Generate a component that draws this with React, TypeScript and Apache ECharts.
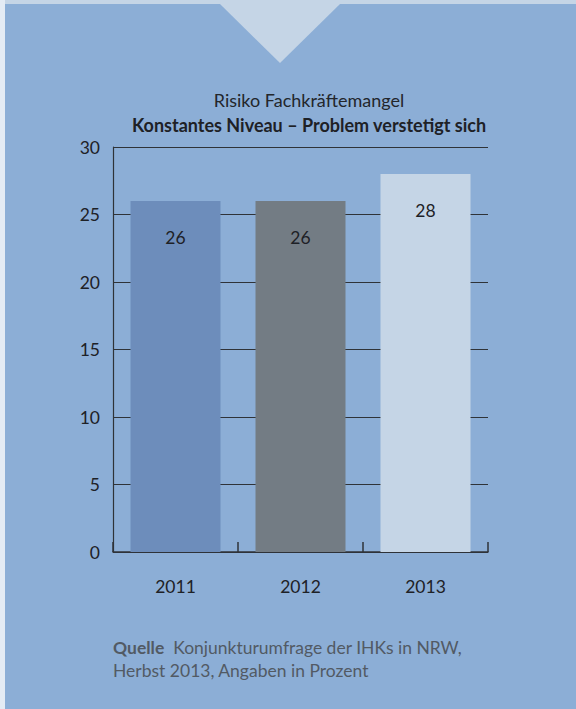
import React, { useEffect, useRef } from "react";
import * as echarts from "echarts";

const categories = ["2011", "2012", "2013"];
const values = [26, 26, 28];
const barColors = ["#6d8dbb", "#737c84", "#c5d5e6"];
const titleLine1 = "Risiko Fachkräftemangel";
const titleLine2 = "Konstantes Niveau – Problem verstetigt sich";
const sourceLabel = "Quelle";
const sourceLine1 = "Konjunkturumfrage der IHKs in NRW,";
const sourceLine2 = "Herbst 2013, Angaben in Prozent";

const FONT = "Lato, 'Noto Sans', sans-serif";

export default function App() {
  const ref = useRef<HTMLDivElement>(null);
  useEffect(() => {
    if (!ref.current) return;
    const chart = echarts.init(ref.current, undefined, { renderer: "svg" });
    chart.setOption({
      animation: false,
      backgroundColor: "#8caed6",
      textStyle: { fontFamily: FONT },
      graphic: [
        { type: "rect", shape: { x: 0, y: 0, width: 576, height: 4 }, style: { fill: "#c5d5e6" }, z: -10 },
        { type: "rect", shape: { x: 0, y: 0, width: 5, height: 709 }, style: { fill: "#e4ebf4" }, z: -10 },
        { type: "polygon", shape: { points: [[220, 4], [340, 4], [280, 63]] }, style: { fill: "#c5d5e6" }, z: -10 },
        { type: "text", x: 309, y: 100, style: { text: titleLine1, textAlign: "center", textVerticalAlign: "middle", fontSize: 18, fill: "#23262b", fontFamily: FONT } },
        { type: "text", x: 309, y: 125, style: { text: titleLine2, textAlign: "center", textVerticalAlign: "middle", fontSize: 18, fontWeight: "bold", fill: "#1e2126", fontFamily: FONT } },
        {
          type: "text", x: 113, y: 658.5,
          style: {
            text: "{b|" + sourceLabel + "}  " + sourceLine1 + "\n" + sourceLine2,
            textVerticalAlign: "middle", fontSize: 17.5, lineHeight: 23, fill: "#525a64", fontFamily: FONT,
            rich: { b: { fontWeight: "bold", fontSize: 17.5, fill: "#525a64", fontFamily: FONT } },
          },
        },
      ],
      grid: { left: 113, right: 88, top: 147, bottom: 157, containLabel: false },
      xAxis: {
        type: "category",
        data: categories,
        axisLine: { show: true, lineStyle: { color: "#2f3338", width: 1.5 } },
        axisTick: { show: true, inside: true, length: 10, alignWithLabel: false, lineStyle: { color: "#2f3338", width: 1.5 } },
        axisLabel: { fontSize: 17.5, color: "#1e2126", margin: 25, fontFamily: FONT },
        splitLine: { show: false },
      },
      yAxis: {
        type: "value",
        min: 0,
        max: 30,
        interval: 5,
        axisLine: { show: true, lineStyle: { color: "#2f3338", width: 1.2 } },
        axisTick: { show: false },
        axisLabel: { fontSize: 17.5, color: "#1e2126", margin: 13, fontFamily: FONT },
        splitLine: { show: true, lineStyle: { color: "#2f3338", width: 1 } },
      },
      series: [
        {
          type: "bar",
          barWidth: 90,
          data: values.map((v, i) => ({ value: v, itemStyle: { color: barColors[i] } })),
          label: { show: true, position: "insideTop", distance: 27, fontSize: 17.5, color: "#1e2126", fontFamily: FONT },
        },
      ],
    });
    return () => chart.dispose();
  }, []);
  return <div ref={ref} style={{ position: "fixed", left: 0, top: 0, width: 576, height: 709 }} />;
}
